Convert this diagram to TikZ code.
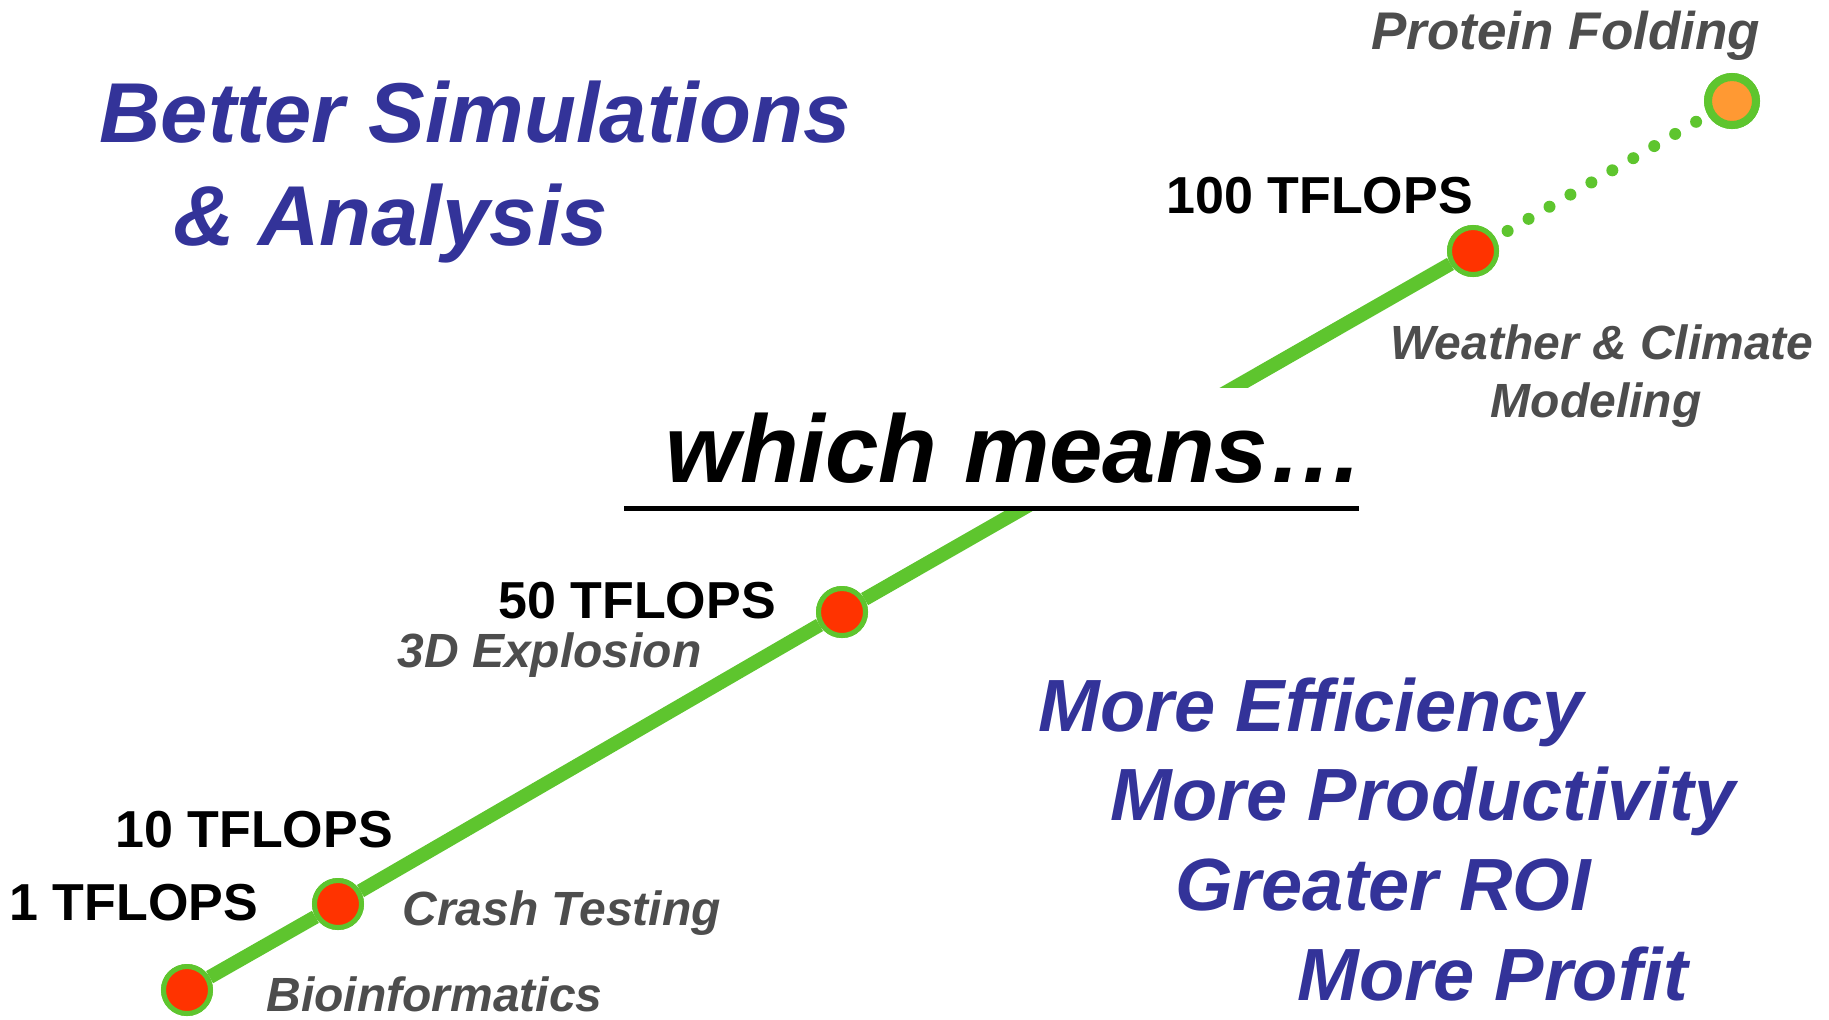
\documentclass[tikz,border=0pt]{standalone}
\usepackage{fontspec}
\setmainfont{Liberation Sans}
\definecolor{sloganblue}{RGB}{51,51,153}
\definecolor{appgrey}{RGB}{77,77,77}
\definecolor{linegreen}{RGB}{94,197,46}
\definecolor{dotred}{RGB}{255,51,0}
\definecolor{dotorange}{RGB}{255,153,51}
\tikzset{
  slogan/.style={anchor=base west, inner sep=0pt, text=sloganblue, font=\bfseries\itshape\fontsize{37}{44}\selectfont},
  headline/.style={slogan, font=\bfseries\itshape\fontsize{42.5}{50}\selectfont},
  flops/.style={anchor=base west, inner sep=0pt, font=\bfseries\fontsize{26}{31}\selectfont},
  app/.style={anchor=base west, inner sep=0pt, text=appgrey, font=\bfseries\itshape\fontsize{24}{29}\selectfont},
  milestone/.style={circle, fill=dotred, draw=linegreen, line width=2.5pt, minimum size=23.5pt, inner sep=0pt},
  future/.style={circle, fill=dotorange, draw=linegreen, line width=4pt, minimum size=24pt, inner sep=0pt},
  trend/.style={draw=linegreen, line width=7pt},
  projection/.style={draw=linegreen, line width=6pt, line cap=round, dash pattern=on 0pt off 12.1pt, shorten <=7pt, shorten >=6pt},
}
\begin{document}
\begin{tikzpicture}[x=0.5pt,y=-0.5pt]
\useasboundingbox (0,0) rectangle (1829,1019);
\coordinate (p1) at (187,990);
\coordinate (p2) at (338,904);
\coordinate (p3) at (842,612);
\coordinate (p4) at (1473,251);
\coordinate (p5) at (1732,101);
\node[milestone] (d1) at (p1) {};
\node[milestone] (d2) at (p2) {};
\node[milestone] (d3) at (p3) {};
\node[milestone] (d4) at (p4) {};
\node[future] (d5) at (p5) {};
% connectors
\path[trend] (d1) -- (d2);
\path[trend] (d2) -- (d3);
\path[trend] (d3) -- (d4);
\path[projection] (d4) -- (d5);
% white box hiding the trend line behind the headline
\fill[white] (600,388) rectangle (1380,506);
\coordinate (ul1) at (624,508);
\coordinate (ul2) at (1359,508);
\draw[line width=2.5pt] (ul1) -- (ul2);
\node[anchor=base west, inner sep=0pt, font=\bfseries\itshape\fontsize{48}{58}\selectfont] (means) at (665,482) {which means…};
% milestones on top of the line
\node[milestone] at (p1) {};
\node[milestone] at (p2) {};
\node[milestone] at (p3) {};
\node[milestone] at (p4) {};
\node[future] at (p5) {};
% headlines
\node[headline] (better) at (99,142) {Better Simulations};
\node[headline] (analysis) at (173,245) {\& Analysis};
\node[slogan] (eff) at (1038,731) {More Efficiency};
\node[slogan] (prod) at (1110,820) {More Productivity};
\node[slogan] (roi) at (1175,910) {Greater ROI};
\node[slogan] (profit) at (1297,1000) {More Profit};
% performance labels
\node[flops] (f100) at (1166,213) {100 TFLOPS};
\node[flops] (f50) at (498,618) {50 TFLOPS};
\node[flops] (f10) at (115,847) {10 TFLOPS};
\node[flops] (f1) at (9,920) {1 TFLOPS};
% applications
\node[app, font=\bfseries\itshape\fontsize{26.5}{31}\selectfont] (protein) at (1371,49) {Protein Folding};
\node[app] (weather) at (1390,359) {Weather \& Climate};
\node[app, anchor=base] (modeling) at (1596,417) {Modeling};
\node[app] (explosion) at (397,667) {3D Explosion};
\node[app] (crash) at (402,925) {Crash Testing};
\node[app] (bio) at (266,1011) {Bioinformatics};
\end{tikzpicture}
\end{document}
